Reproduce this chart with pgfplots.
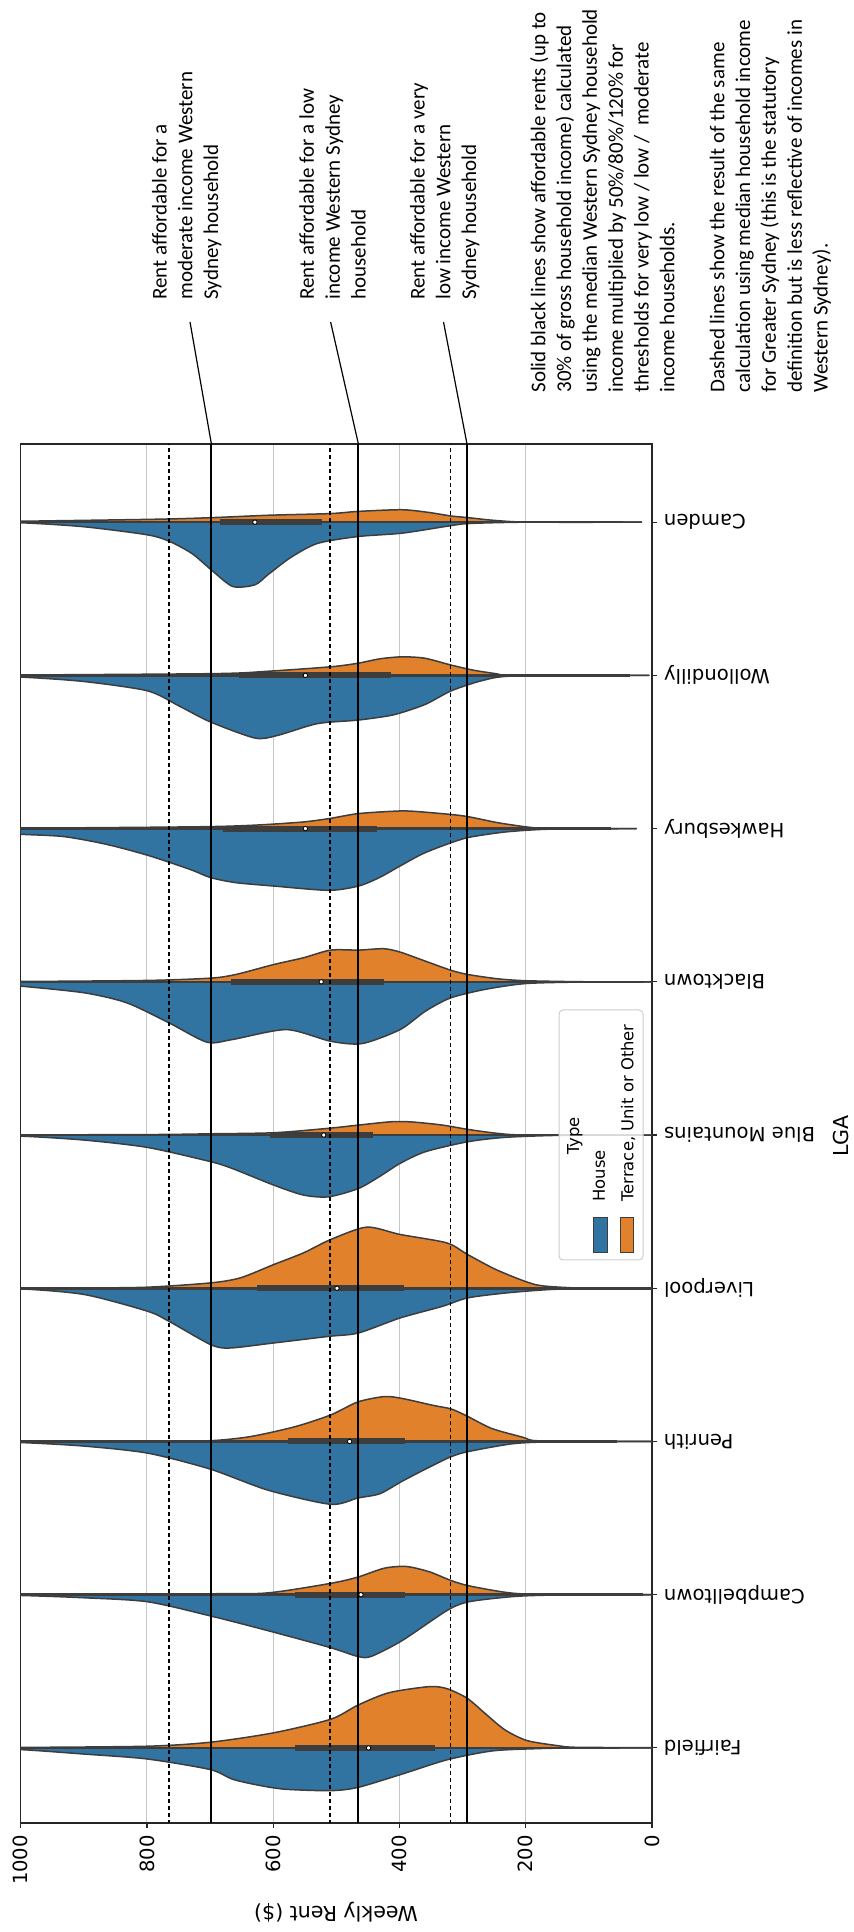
\documentclass[border=0pt]{standalone}
\usepackage{fontspec}
\setmainfont{DejaVu Sans}
\newfontfamily\carlito{Carlito}
\usepackage{pgfplots}
\pgfplotsset{compat=1.18}
\definecolor{vblue}{HTML}{3274A1}
\definecolor{vorange}{HTML}{E1812C}
\definecolor{vgray}{HTML}{3D3D3D}
\pgfplotsset{
  vB/.style={fill=vblue, draw=vgray, line width=0.75pt, smooth, tension=0.45},
  vO/.style={fill=vorange, draw=vgray, line width=0.75pt, smooth, tension=0.45},
  whisk/.style={vgray, line width=1.3pt},
  boxq/.style={vgray, line width=3pt},
  med/.style={only marks, mark=*, mark size=1.1pt, mark options={fill=white, draw=none}},
}
\newcommand{\annfont}{\carlito\fontsize{10.5}{12.9}\selectfont}
\begin{document}
\begin{tikzpicture}
\useasboundingbox (0,0) rectangle (426.5pt,966pt);
\begin{axis}[
  at={(10.35pt,54.5pt)}, anchor=south west,
  width=315.65pt, height=689.5pt, scale only axis,
  xmin=0, xmax=1000, x dir=reverse,
  ymin=-0.49, ymax=8.51,
  xtick={0,200,400,600,800,1000},
  ytick={0,1,2,3,4,5,6,7,8},
  yticklabels={Fairfield,Campbelltown,Penrith,Liverpool,Blue Mountains,Blacktown,Hawkesbury,Wollondilly,Camden},
  xtick pos=left, ytick pos=right, yticklabel pos=right,
  tick align=outside, major tick length=2.5pt,
  xmajorgrids, grid style={black!22, line width=0.5pt},
  axis line style={black!85, line width=0.55pt},
  tick style={black!85, line width=0.55pt},
  xticklabel style={rotate=90, anchor=east, font=\fontsize{9.8}{11}\selectfont},
  yticklabel style={rotate=180, anchor=east, font=\fontsize{9.8}{11}\selectfont},
  /pgf/number format/assume math mode=true,
  /pgf/number format/1000 sep={},
  scaled x ticks=false,
]
% ---------- Fairfield (0)
\addplot[vB] table[x=r, y expr=0-\thisrow{w}] {
r w
1100 0
1000 0.011
900 0.04
800 0.072
700 0.141
664 0.205
620 0.246
580 0.27
509 0.279
466 0.258
396 0.171
325 0.078
254 0.02
184 0.005
120 0
0 0
1100 0
};
\addplot[vO] table[x=r, y expr=0+\thisrow{w}] {
r w
1100 0
1000 0.003
800 0.011
700 0.037
600 0.098
509 0.187
466 0.279
417 0.36
353 0.40
325 0.387
293 0.325
263 0.22
233 0.118
198 0.048
148 0.014
120 0.004
0 0
1100 0
};
% ---------- Campbelltown (1)
\addplot[vB] table[x=r, y expr=1-\thisrow{w}] {
r w
1100 0
1000 0.005
900 0.02
799 0.046
700 0.138
608 0.235
509 0.346
466 0.403
445 0.403
396 0.30
325 0.104
290 0.046
219 0.012
150 0.002
0 0
1100 0
};
\addplot[vO] table[x=r, y expr=1+\thisrow{w}] {
r w
1100 0
1000 0.002
700 0.006
608 0.012
509 0.074
466 0.115
424 0.173
389 0.184
353 0.15
318 0.092
290 0.058
233 0.016
184 0.003
0 0
1100 0
};
% ---------- Penrith (2)
\addplot[vB] table[x=r, y expr=2-\thisrow{w}] {
r w
1100 0
1000 0.007
900 0.03
799 0.076
700 0.18
608 0.318
509 0.41
466 0.369
431 0.341
396 0.26
353 0.168
318 0.099
290 0.065
219 0.014
150 0.002
0 0
1100 0
};
\addplot[vO] table[x=r, y expr=2+\thisrow{w}] {
r w
1100 0
800 0.002
700 0.005
636 0.032
565 0.097
509 0.173
466 0.258
424 0.293
396 0.281
346 0.235
318 0.212
293 0.166
254 0.085
205 0.028
184 0.005
100 0.001
0 0
1100 0
};
% ---------- Liverpool (3)
\addplot[vB] table[x=r, y expr=3-\thisrow{w}] {
r w
1100 0
1000 0.004
899 0.041
799 0.150
765 0.216
699 0.368
669 0.39
599 0.357
512 0.314
465 0.292
399 0.194
332 0.118
292 0.063
232 0.031
165 0.009
100 0.001
0 0
1100 0
};
\addplot[vO] table[x=r, y expr=3+\thisrow{w}] {
r w
1100 0
900 0.002
799 0.007
699 0.035
652 0.068
599 0.155
552 0.231
509 0.318
452 0.399
399 0.351
325 0.296
292 0.22
245 0.118
185 0.024
132 0.004
99 0
0 0
1100 0
};
% ---------- Blue Mountains (4)
\addplot[vB] table[x=r, y expr=4-\thisrow{w}] {
r w
1100 0
1000 0.007
899 0.033
799 0.081
699 0.174
665 0.218
599 0.327
552 0.392
512 0.403
465 0.349
432 0.272
399 0.185
359 0.109
292 0.044
232 0.015
145 0.002
20 0
1100 0
};
\addplot[vO] table[x=r, y expr=4+\thisrow{w}] {
r w
1100 0
800 0.003
700 0.008
599 0.015
512 0.044
465 0.065
412 0.087
379 0.085
332 0.065
292 0.037
245 0.011
199 0
20 0
1100 0
};
% ---------- Blacktown (5)
\addplot[vB] table[x=r, y expr=5-\thisrow{w}] {
r w
1100 0
1050 0.012
1000 0.028
899 0.072
832 0.137
765 0.268
705 0.394
665 0.377
579 0.312
509 0.388
459 0.403
399 0.312
359 0.192
319 0.105
265 0.05
199 0.011
100 0.001
0 0
1100 0
};
\addplot[vO] table[x=r, y expr=5+\thisrow{w}] {
r w
1100 0
1000 0.002
799 0.009
699 0.024
659 0.048
599 0.113
552 0.157
509 0.207
465 0.207
425 0.216
399 0.194
359 0.135
319 0.076
292 0.048
245 0.02
199 0.007
100 0
0 0
1100 0
};
% ---------- Hawkesbury (6)
\addplot[vB] table[x=r, y expr=6-\thisrow{w}] {
r w
1100 0
1050 0.02
1000 0.037
932 0.052
865 0.102
799 0.174
732 0.266
699 0.320
659 0.353
599 0.375
512 0.403
465 0.375
432 0.32
399 0.244
365 0.168
332 0.113
292 0.059
232 0.022
165 0.004
60 0
1100 0
};
\addplot[vO] table[x=r, y expr=6+\thisrow{w}] {
r w
1100 0
699 0.013
565 0.039
512 0.065
465 0.098
399 0.115
365 0.109
299 0.083
245 0.039
199 0.011
165 0
60 0
1100 0
};
% ---------- Wollondilly (7)
\addplot[vB] table[x=r, y expr=7-\thisrow{w}] {
r w
1100 0
1000 0.011
900 0.04
799 0.101
749 0.2
700 0.303
629 0.409
594 0.393
530 0.315
466 0.292
410 0.258
360 0.191
318 0.101
269 0.034
219 0.004
30 0
1100 0
};
\addplot[vO] table[x=r, y expr=7+\thisrow{w}] {
r w
1100 0
700 0.011
608 0.027
509 0.056
466 0.079
431 0.108
396 0.121
360 0.112
318 0.067
283 0.034
247 0.011
219 0
30 0
1100 0
};
% ---------- Camden (8)
\addplot[vB] table[x=r, y expr=8-\thisrow{w}] {
r w
1100 0
1000 0.004
900 0.03
799 0.083
763 0.128
728 0.207
696 0.319
664 0.42
629 0.409
608 0.342
572 0.23
530 0.139
466 0.094
396 0.072
325 0.027
290 0.009
198 0
46 0
1100 0
};
\addplot[vO] table[x=r, y expr=8+\thisrow{w}] {
r w
1100 0
799 0.018
700 0.029
608 0.045
509 0.056
466 0.07
396 0.081
353 0.063
318 0.04
290 0.029
254 0.013
198 0
46 0
1100 0
};
% ---------- whiskers and boxes
\addplot[whisk] coordinates {(50,0) (1100,0)};
\addplot[whisk] coordinates {(15,1) (1100,1)};
\addplot[whisk] coordinates {(55,2) (1100,2)};
\addplot[whisk] coordinates {(0,3) (1100,3)};
\addplot[whisk] coordinates {(145,4) (1100,4)};
\addplot[whisk] coordinates {(12,5) (1100,5)};
\addplot[whisk] coordinates {(65,6) (1100,6)};
\addplot[whisk] coordinates {(35,7) (1100,7)};
\addplot[whisk] coordinates {(46,8) (1100,8)};
\addplot[boxq] coordinates {(343,0) (565,0)};
\addplot[boxq] coordinates {(392,1) (565,1)};
\addplot[boxq] coordinates {(392,2) (576,2)};
\addplot[boxq] coordinates {(393,3) (625,3)};
\addplot[boxq] coordinates {(442,4) (605,4)};
\addplot[boxq] coordinates {(424,5) (667,5)};
\addplot[boxq] coordinates {(435,6) (679,6)};
\addplot[boxq] coordinates {(413,7) (654,7)};
\addplot[boxq] coordinates {(523,8) (685,8)};
\addplot[med] coordinates {(449,0) (461,1) (479,2) (499,3) (520,4) (524,5) (549,6) (549,7) (629,8)};
% ---------- reference lines
\addplot[black, line width=1pt] coordinates {(698,-1) (698,9)};
\addplot[black, line width=1pt] coordinates {(465,-1) (465,9)};
\addplot[black, line width=1pt] coordinates {(293,-1) (293,9)};
\addplot[black, line width=0.6pt, dash pattern=on 2.2pt off 1.3pt] coordinates {(765,-1) (765,9)};
\addplot[black, line width=0.6pt, dash pattern=on 2.2pt off 1.3pt] coordinates {(510,-1) (510,9)};
\addplot[black, line width=0.6pt, dash pattern=on 2.2pt off 1.3pt] coordinates {(319,-1) (319,9)};
\end{axis}
% axis labels
\node[rotate=180, font=\fontsize{10.3}{12}\selectfont] at (168pt,9.8pt) {Weekly Rent (\$)};
\node[rotate=90, font=\fontsize{10.3}{12}\selectfont, inner sep=0pt] at (420.3pt,398pt) {LGA};
% legend
\draw[rounded corners=2pt, draw=black!20, fill=white, fill opacity=0.8, line width=0.5pt] (279.5pt,336pt) rectangle (321.5pt,461pt);
\node[rotate=90, font=\fontsize{8.2}{10}\selectfont, inner sep=0pt] at (287.4pt,398pt) {Type};
\node[rotate=90, anchor=west, font=\fontsize{8.2}{10}\selectfont, inner sep=0pt] at (299.5pt,365pt) {House};
\node[rotate=90, anchor=west, font=\fontsize{8.2}{10}\selectfont, inner sep=0pt] at (314pt,365pt) {Terrace, Unit or Other};
\draw[fill=vblue, draw=vgray, line width=0.5pt] (296.5pt,339.5pt) rectangle (303.5pt,357pt);
\draw[fill=vorange, draw=vgray, line width=0.5pt] (310pt,339.5pt) rectangle (316.5pt,357pt);
% annotation pointer lines
\draw[black, line width=0.6pt] (95pt,805pt) -- (105.7pt,744pt);
\draw[black, line width=0.6pt] (165.3pt,805pt) -- (179.2pt,744pt);
\draw[black, line width=0.6pt] (221.75pt,805pt) -- (233.5pt,744pt);
% annotation text
\node[rotate=90, anchor=north west, align=left, inner sep=0pt, font=\annfont] at (75.8pt,816pt)
  {Rent affordable for a\\moderate income Western\\Sydney household};
\node[rotate=90, anchor=north west, align=left, inner sep=0pt, font=\annfont] at (149.5pt,816pt)
  {Rent affordable for a low\\income Western Sydney\\household};
\node[rotate=90, anchor=north west, align=left, inner sep=0pt, font=\annfont] at (204.8pt,816pt)
  {Rent affordable for a very\\low income Western\\Sydney household};
\node[rotate=90, anchor=north west, align=left, inner sep=0pt, font=\annfont] at (264.8pt,769.5pt)
  {Solid black lines show affordable rents (up to\\30\% of gross household income) calculated\\using the median Western Sydney household\\income multiplied by 50\%/80\%/120\% for\\thresholds for very low / low / \ moderate\\income households.};
\node[rotate=90, anchor=north west, align=left, inner sep=0pt, font=\annfont] at (354.7pt,769.5pt)
  {Dashed lines show the result of the same\\calculation using median household income\\for Greater Sydney (this is the statutory\\definition but is less reflective of incomes in\\Western Sydney).};
\end{tikzpicture}
\end{document}
